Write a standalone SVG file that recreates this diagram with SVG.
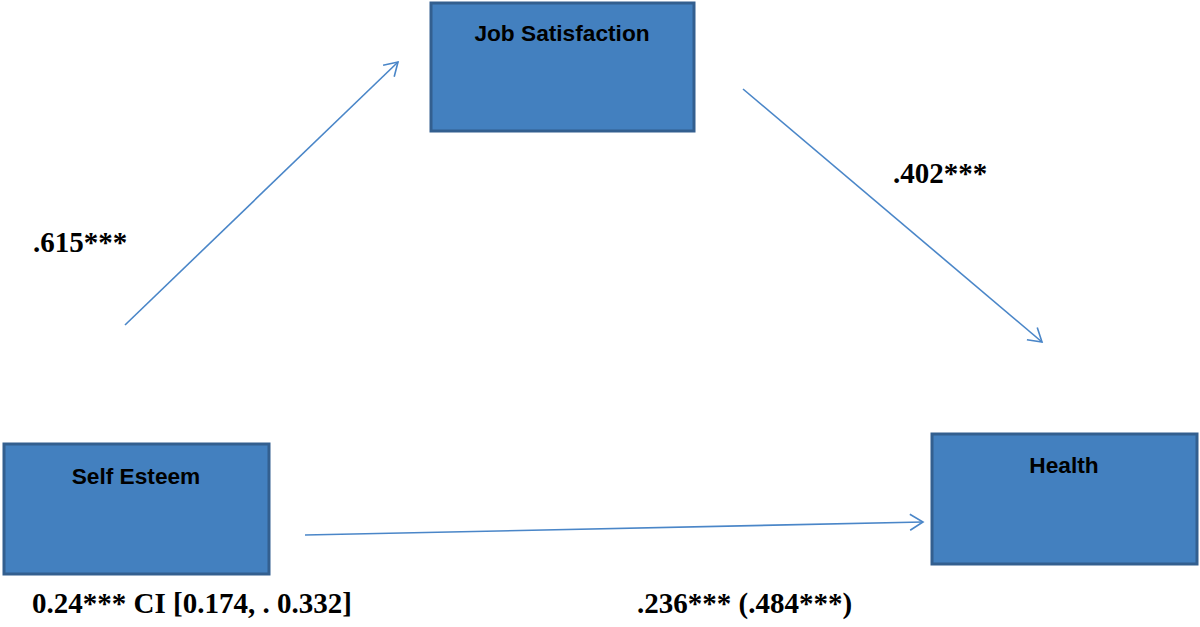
<svg xmlns="http://www.w3.org/2000/svg" width="1200" height="627" viewBox="0 0 1200 627">
<style>
.box{fill:#4380bf;stroke:#335f8f;stroke-width:3}
.nl{font-family:"Liberation Sans",Arial,sans-serif;font-weight:bold;font-size:22.7px;fill:#000;text-anchor:middle}
.el{font-family:"Liberation Serif","Times New Roman",serif;font-weight:bold;font-size:29px;fill:#000}
.conn{stroke:#4a86c8;stroke-width:1.6;fill:none}
</style>
<defs>
<marker id="ah" markerWidth="20" markerHeight="20" refX="15" refY="10" orient="auto" markerUnits="userSpaceOnUse">
<path d="M2,2 L15,10 L2,18" fill="none" stroke="#4a86c8" stroke-width="1.6"/>
</marker>
</defs>
<rect width="1200" height="627" fill="#fff"/>
<g id="connectors">
<line class="conn" x1="125" y1="325" x2="398" y2="62" marker-end="url(#ah)"/>
<line class="conn" x1="743" y1="89" x2="1042" y2="342" marker-end="url(#ah)"/>
<line class="conn" x1="305" y1="535" x2="923" y2="522" marker-end="url(#ah)"/>
</g>
<g id="job-satisfaction">
<rect class="box" x="431" y="3" width="263" height="128"/>
<text class="nl" x="562" y="41">Job Satisfaction</text>
</g>
<g id="self-esteem">
<rect class="box" x="4" y="444" width="265" height="130"/>
<text class="nl" x="136" y="484">Self Esteem</text>
</g>
<g id="health">
<rect class="box" x="932" y="434" width="265" height="130"/>
<text class="nl" x="1064" y="473">Health</text>
</g>
<g id="labels">
<text class="el" x="33" y="252">.615***</text>
<text class="el" x="893" y="183">.402***</text>
<text class="el" x="32" y="613">0.24*** CI [0.174, . 0.332]</text>
<text class="el" x="637" y="613">.236*** (.484***)</text>
</g>
</svg>
